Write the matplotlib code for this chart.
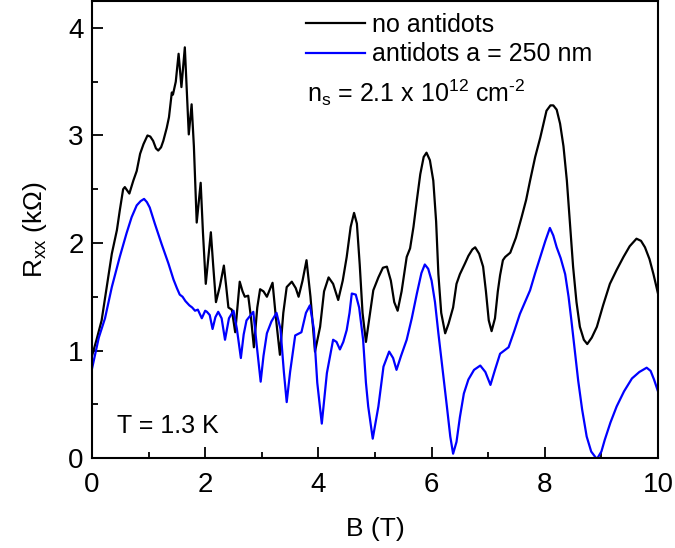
import matplotlib
matplotlib.use("Agg")
import matplotlib.pyplot as plt

plt.rcParams['font.family'] = ['Liberation Sans', 'DejaVu Sans']
plt.rcParams['mathtext.fontset'] = 'custom'
plt.rcParams['mathtext.rm'] = 'Liberation Sans'
plt.rcParams['mathtext.it'] = 'Liberation Sans:italic'

# Longitudinal resistance vs magnetic field, T = 1.3 K
b_plain = [0.00, 0.08, 0.17, 0.26, 0.35, 0.44, 0.49, 0.55, 0.58, 0.62, 0.66, 0.73, 0.79, 0.85, 0.91,
           0.98, 1.03, 1.08, 1.13, 1.17, 1.22, 1.26, 1.32, 1.36, 1.41, 1.43, 1.48, 1.53, 1.58, 1.64,
           1.71, 1.76, 1.80, 1.85, 1.92, 1.96, 2.01, 2.10, 2.14, 2.19, 2.26, 2.33, 2.37, 2.41, 2.47,
           2.53, 2.61, 2.66, 2.70, 2.76, 2.81, 2.86, 2.92, 2.97, 3.03, 3.09, 3.19, 3.25, 3.32, 3.38,
           3.44, 3.53, 3.60, 3.65, 3.72, 3.79, 3.86, 3.94, 4.03, 4.10, 4.18, 4.26, 4.35, 4.43, 4.50,
           4.57, 4.63, 4.68, 4.73, 4.78, 4.84, 4.90, 4.97, 5.06, 5.14, 5.21, 5.28, 5.34, 5.40, 5.47,
           5.56, 5.62, 5.68, 5.74, 5.80, 5.86, 5.91, 5.97, 6.03, 6.08, 6.12, 6.17, 6.24, 6.30, 6.38,
           6.44, 6.50, 6.59, 6.65, 6.72, 6.77, 6.84, 6.91, 6.96, 7.01, 7.06, 7.12, 7.17, 7.21, 7.26,
           7.30, 7.39, 7.49, 7.59, 7.67, 7.74, 7.83, 7.92, 8.03, 8.10, 8.15, 8.21, 8.27, 8.33, 8.39,
           8.45, 8.50, 8.56, 8.62, 8.69, 8.75, 8.83, 8.92, 9.03, 9.15, 9.27, 9.39, 9.50, 9.62, 9.70,
           9.77, 9.85, 9.92, 10.00]
r_plain = [0.95, 1.10, 1.28, 1.59, 1.90, 2.12, 2.30, 2.50, 2.52, 2.49, 2.46, 2.58, 2.67, 2.83, 2.92,
           3.00, 2.99, 2.95, 2.88, 2.86, 2.89, 2.95, 3.07, 3.17, 3.40, 3.38, 3.50, 3.76, 3.45, 3.82,
           3.01, 3.29, 2.90, 2.19, 2.56, 2.10, 1.62, 2.10, 1.80, 1.45, 1.60, 1.79, 1.60, 1.40, 1.38,
           1.17, 1.64, 1.55, 1.50, 1.51, 1.30, 1.03, 1.40, 1.57, 1.55, 1.50, 1.63, 1.30, 0.96, 1.35,
           1.59, 1.64, 1.58, 1.50, 1.65, 1.84, 1.50, 0.99, 1.22, 1.55, 1.68, 1.62, 1.47, 1.65, 1.87,
           2.15, 2.28, 2.18, 1.80, 1.35, 1.08, 1.30, 1.56, 1.68, 1.77, 1.78, 1.65, 1.45, 1.37, 1.55,
           1.87, 1.95, 2.15, 2.40, 2.64, 2.80, 2.84, 2.77, 2.58, 2.20, 1.71, 1.35, 1.16, 1.25, 1.40,
           1.62, 1.71, 1.81, 1.88, 1.94, 1.96, 1.90, 1.78, 1.55, 1.28, 1.18, 1.30, 1.55, 1.70, 1.84,
           1.87, 1.91, 2.05, 2.24, 2.40, 2.58, 2.80, 2.98, 3.23, 3.28, 3.28, 3.24, 3.11, 2.90, 2.58,
           2.15, 1.78, 1.45, 1.22, 1.10, 1.06, 1.12, 1.22, 1.42, 1.62, 1.75, 1.87, 1.97, 2.04, 2.02,
           1.96, 1.85, 1.71, 1.53]

b_dots = [0.00, 0.05, 0.12, 0.23, 0.35, 0.49, 0.61, 0.70, 0.79, 0.86, 0.92, 0.97, 1.02, 1.11, 1.23,
          1.35, 1.44, 1.50, 1.55, 1.60, 1.65, 1.72, 1.77, 1.82, 1.87, 1.94, 2.00, 2.03, 2.08, 2.13,
          2.18, 2.23, 2.29, 2.35, 2.42, 2.50, 2.56, 2.63, 2.68, 2.73, 2.79, 2.85, 2.91, 2.98, 3.03,
          3.09, 3.17, 3.26, 3.33, 3.39, 3.44, 3.50, 3.59, 3.70, 3.78, 3.85, 3.92, 3.98, 4.06, 4.15,
          4.26, 4.32, 4.38, 4.44, 4.50, 4.55, 4.59, 4.66, 4.72, 4.79, 4.84, 4.88, 4.96, 5.06, 5.15,
          5.25, 5.32, 5.38, 5.46, 5.56, 5.65, 5.74, 5.82, 5.88, 5.94, 6.00, 6.06, 6.12, 6.20, 6.27,
          6.33, 6.38, 6.44, 6.50, 6.57, 6.65, 6.75, 6.86, 6.95, 7.04, 7.12, 7.21, 7.36, 7.46, 7.56,
          7.65, 7.74, 7.83, 7.92, 8.01, 8.09, 8.15, 8.21, 8.28, 8.36, 8.42, 8.47, 8.53, 8.59, 8.66,
          8.74, 8.82, 8.92, 9.00, 9.06, 9.16, 9.27, 9.40, 9.54, 9.67, 9.80, 9.87, 9.93, 10.00]
r_dots = [0.83, 0.95, 1.12, 1.30, 1.59, 1.87, 2.09, 2.24, 2.35, 2.39, 2.41, 2.38, 2.33, 2.18, 1.99,
          1.81, 1.66, 1.58, 1.52, 1.50, 1.46, 1.42, 1.40, 1.37, 1.38, 1.30, 1.37, 1.36, 1.33, 1.20,
          1.31, 1.36, 1.30, 1.10, 1.30, 1.37, 1.20, 0.93, 1.15, 1.28, 1.32, 1.36, 1.05, 0.71, 0.95,
          1.16, 1.27, 1.35, 1.20, 0.80, 0.52, 0.80, 1.14, 1.17, 1.35, 1.42, 1.20, 0.70, 0.32, 0.79,
          1.10, 1.08, 1.01, 1.08, 1.19, 1.35, 1.53, 1.52, 1.40, 1.10, 0.70, 0.48, 0.18, 0.48, 0.85,
          0.99, 0.93, 0.82, 0.95, 1.10, 1.30, 1.53, 1.72, 1.80, 1.76, 1.65, 1.45, 1.16, 0.80, 0.48,
          0.20, 0.04, 0.15, 0.38, 0.60, 0.73, 0.82, 0.86, 0.80, 0.68, 0.82, 0.97, 1.03, 1.18, 1.34,
          1.45, 1.56, 1.72, 1.87, 2.02, 2.14, 2.07, 1.96, 1.86, 1.71, 1.50, 1.28, 1.00, 0.72, 0.45,
          0.20, 0.06, -0.01, 0.06, 0.17, 0.33, 0.48, 0.62, 0.74, 0.80, 0.84, 0.81, 0.73, 0.62]

labels = ["no antidots", "antidots a = 250 nm"]
colors = ["black", "#0000ff"]

fig = plt.figure(figsize=(6.75, 5.48), dpi=100)
ax = fig.add_axes([0.1363, 0.1642, 0.8385, 0.8338])

ax.plot(b_plain, r_plain, color=colors[0], lw=1.6, label=labels[0])
ax.plot(b_dots, r_dots, color=colors[1], lw=1.6, label=labels[1])

ax.set_xlim(0, 10)
ax.set_ylim(0, 4.25)
ax.set_xticks([0, 2, 4, 6, 8, 10])
ax.set_xticks([1, 3, 5, 7, 9], minor=True)
ax.set_yticks([0, 1, 2, 3, 4])
ax.set_yticks([0.5, 1.5, 2.5, 3.5], minor=True)
ax.tick_params(which='both', direction='in', top=False, right=False, width=1.3)
ax.tick_params(which='major', length=8, labelsize=20)
ax.tick_params(which='minor', length=4.5)
ax.tick_params(axis='x', which='major', pad=10)
ax.tick_params(axis='y', which='major', pad=6)
for s in ax.spines.values():
    s.set_linewidth(1.5)

ax.set_xlabel("B (T)", fontsize=19, labelpad=14)
ax.set_ylabel(r"R$_\mathregular{xx}$ (k$\Omega$)", fontsize=19, labelpad=14)

ax.legend(loc='upper left', bbox_to_anchor=(0.378, 0.974), frameon=False, fontsize=18,
          handlelength=2.36, handletextpad=0.28, labelspacing=0.22,
          borderpad=0, borderaxespad=0)

ax.text(0.380, 0.780,
        "n$_\\mathregular{s}$ = 2.1 x 10$^\\mathregular{12}$ cm$^\\mathregular{\u20102}$",
        transform=ax.transAxes, fontsize=18, va='baseline', ha='left')
ax.text(0.044, 0.055, "T = 1.3 K", transform=ax.transAxes, fontsize=18,
        va='baseline', ha='left')

fig.savefig("out.png", dpi=100)
